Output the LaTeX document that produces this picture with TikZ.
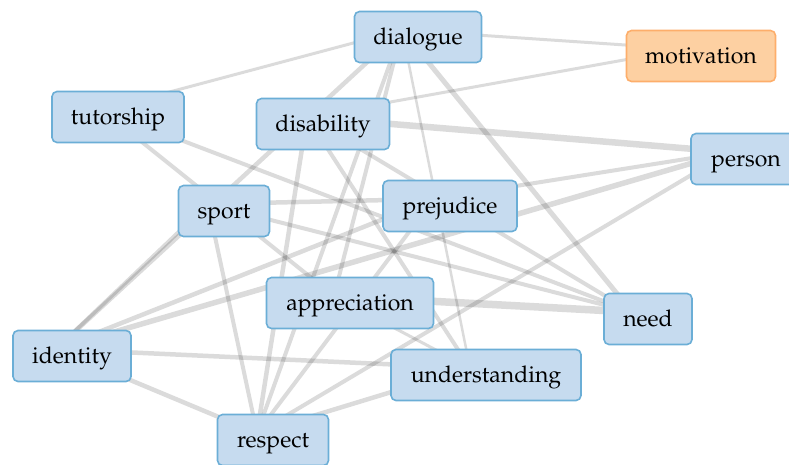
\documentclass[tikz,border=0pt]{standalone}
\usepackage[T1]{fontenc}
\usepackage{mathpazo}
\usetikzlibrary{backgrounds}
\definecolor{boxfill}{HTML}{C6DBEF}
\definecolor{boxline}{HTML}{6BAED6}
\definecolor{hotfill}{HTML}{FDD0A2}
\definecolor{hotline}{HTML}{FDAE6B}
\tikzset{
  term/.style={draw=boxline, fill=boxfill, line width=1.6pt, rounded corners=5pt,
    minimum height=51pt, inner sep=0pt, text height=19pt, text depth=4pt,
    font=\fontsize{23}{26}\selectfont},
  hot/.style={term, draw=hotline, fill=hotfill},
  link/.style={draw=black, draw opacity=0.14, line cap=butt},
}
\begin{document}
\begin{tikzpicture}[x=1pt, y=-1pt]
\useasboundingbox (0,0) rectangle (789,464);

% terms
\node[term, minimum width=127pt] (dialogue)      at (418,37)  {dialogue};
\node[hot,  minimum width=149pt] (motivation)    at (701,56)  {motivation};
\node[term, minimum width=132pt] (tutorship)     at (118,117) {tutorship};
\node[term, minimum width=133pt] (disability)    at (323,124) {disability};
\node[term, minimum width=110pt] (person)        at (746,159) {person};
\node[term, minimum width=91pt]  (sport)         at (224,211) {sport};
\node[term, minimum width=134pt] (prejudice)     at (450,206) {prejudice};
\node[term, minimum width=167pt] (appreciation)  at (350,303) {appreciation};
\node[term, minimum width=88pt]  (need)          at (648,319) {need};
\node[term, minimum width=118pt] (identity)      at (72,356)  {identity};
\node[term, minimum width=190pt] (understanding) at (486,375) {understanding};
\node[term, minimum width=111pt] (respect)       at (273,440) {respect};

% co-occurrence links, drawn beneath the terms
\begin{scope}[on background layer]
\foreach \a/\b/\w in {
  dialogue/tutorship/3,
  dialogue/motivation/3,
  disability/motivation/3,
  disability/person/6.5,
  dialogue/need/5,
  dialogue/understanding/2.5,
  dialogue/respect/4,
  dialogue/appreciation/4,
  dialogue/identity/4.5,
  identity/sport/4,
  person/prejudice/4,
  person/identity/5.5,
  person/respect/4,
  sport/prejudice/4.5,
  sport/need/4,
  tutorship/appreciation/4,
  tutorship/need/4,
  disability/respect/4.5,
  disability/understanding/4,
  disability/need/4,
  identity/prejudice/4.5,
  identity/understanding/4.5,
  identity/respect/4.5,
  sport/respect/4,
  prejudice/respect/4,
  understanding/respect/4.5,
  appreciation/need/7.5,
  appreciation/understanding/3}
  \draw[link, line width=\w pt] ([shift={(-16,-7)}]\a.center) -- ([shift={(-16,-7)}]\b.center);
\end{scope}
\end{tikzpicture}
\end{document}
